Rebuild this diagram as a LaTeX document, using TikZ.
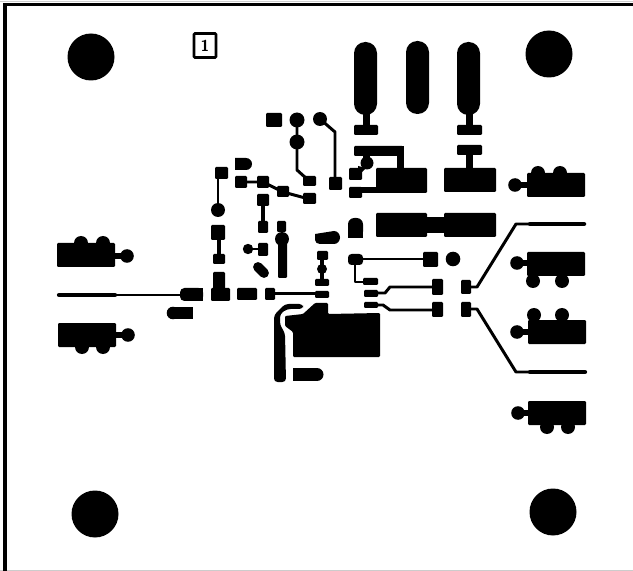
\documentclass[tikz,border=0pt]{standalone}
\usepackage{tikz}
\tikzset{
  pad/.style={fill=black, rounded corners=0.6pt},
  trace/.style={draw=black, line width=1.7pt, line join=round, line cap=round},
  widetrace/.style={draw=black, line width=2.4pt, line join=round, line cap=round},
  via/.style={fill=black},
  frameline/.style={draw=black, line width=2pt},
}
\begin{document}
\begin{tikzpicture}[x=0.02cm, y=-0.02cm]
\useasboundingbox (0,0) rectangle (633,571);
\fill[white] (0,0) rectangle (633,571);
\draw[black!20, line width=0.5pt] (0,570) -- (633,570); % scan edge
\draw[black!20, line width=0.5pt] (0,1.5) -- (633,1.5);
\draw[frameline] (5,571) -- (5,4.5) -- (633,4.5); % frame

% mounting holes
\foreach \hx/\hy in {91/57, 549/54, 95/514, 553/512} {
  \path[via] (\hx,\hy) circle (23.5);
}

\node[draw=black, line width=1.5pt, rounded corners=0.6pt, minimum width=0.44cm, minimum height=0.48cm, inner sep=0pt, font=\sffamily\bfseries\small] (markone) at (205,45.5) {1};

% top capsules
\path[via, rounded corners=6.4pt] (354,42) rectangle (377,115);
\path[via, rounded corners=6.4pt] (406,41) rectangle (429,114);
\path[via, rounded corners=6.4pt] (457,42) rectangle (480,115);
\fill (363,110) rectangle (370,126);
\fill (466,110) rectangle (473,126);
\path[pad] (354,125) rectangle (378,135);
\path[pad] (457,125) rectangle (482,135);

% upper blocks
\path[pad] (354,146) rectangle (403,156);
\fill (397,146) rectangle (404,170);
\fill (363,155) rectangle (370,165);
\path[via] (367,163) circle (6.5);
\path[pad] (349,168) rectangle (362,180);
\fill (358,166) -- (366,168) -- (358,176) -- cycle;
\path[pad] (376,168) rectangle (427,193);
\path[pad] (349,187) rectangle (362,198);
\fill (360,187) rectangle (378,193);
\path[pad] (457,145) rectangle (482,155);
\fill (466,154) rectangle (473,170);
\path[pad] (444,168) rectangle (496,192);

\path[pad] (376,213) rectangle (427,237); % long block
\path[pad] (444,213) rectangle (496,237);
\fill (426,217) rectangle (445,233);
\path[via, rounded corners=3.6pt] (348,218) rectangle (363,238);
\fill (348,228) rectangle (363,238);

% upper left group
\path[pad] (266,113) rectangle (282,127);
\draw[trace] (297,120) -- (297,170) -- (307,179);
\path[via] (297,120) circle (7.5);
\path[via] (297,142) circle (7.5);
\path[pad] (303,176) rectangle (316,186);
\path[via] (320,119) circle (7);
\draw[trace] (320,119) -- (335,132) -- (335,180);
\path[pad] (329,177) rectangle (342,190);

\path[pad] (215,167) rectangle (228,179);
\draw[trace] (218,175) -- (218,210);
\path[via] (218,210) circle (7);
\path[pad] (211,225) rectangle (225,240);
\draw[widetrace] (219,238) -- (219,258);
\path[pad] (213,254) rectangle (225,264);

\fill (235,158) -- (246,158) to[out=0,in=90] (252,164) to[out=-90,in=0] (246,170) -- (235,170) -- cycle;
\path[pad] (235,176) rectangle (247,188);
\draw[trace] (241,182) -- (263,182) -- (283,192) -- (309,199);
\path[pad] (257,176) rectangle (269,188);
\path[pad] (277,186) rectangle (289,197);
\path[pad] (303,193) rectangle (316,204);
\path[pad] (257,194) rectangle (269,206);
\draw[widetrace] (263,200) -- (263,227);
\path[pad] (258,221) rectangle (268,233);

% tall column
\path[pad] (277,221) rectangle (286,232);
\path[via] (282,239) circle (7);
\path[pad] (278,239) rectangle (287,278);
\path[pad] (258,243) rectangle (268,256);
\draw[trace] (248,249) -- (262,249);
\path[via] (248,249) circle (5.2);
\draw[line width=5.6pt, line cap=round] (258,267) -- (264,273);

\fill (315,234) -- (334,231) to[out=0,in=90] (340,237.5) to[out=-90,in=0] (334,244) -- (320,244) to[out=180,in=-90] (315,240) -- cycle;

% bottom left row
\path[pad] (317,251) rectangle (328,260);
\draw[widetrace] (322,258) -- (322,282);
\path[via] (322,269) circle (5);
\path[pad] (315,279) rectangle (329,286);
\path[pad] (211,288) rectangle (230,301);
\path[pad] (213,272) rectangle (225,290);
\path[pad] (237,288) rectangle (257,300);
\path[pad] (265,288) rectangle (275,300);
\draw[trace] (270,293.5) -- (320,293.5);
\path[pad] (315,291) rectangle (329,298);

% input trace
\draw[widetrace] (59,295) -- (115,295);
\draw[trace] (115,295) -- (185,295);
\path[via, rounded corners=2.5pt] (180,288) rectangle (203,301);
\fill (190,288) rectangle (203,301);
\fill (193,307) rectangle (175,319);
\path[via] (173,313) circle (6.3);

% chip area
\fill[rounded corners=0.6pt] (285,316) -- (303,314) -- (315,303) -- (328,303) -- (328,314) -- (380,313) -- (380,357) -- (293,357) -- (293,332) -- (285,326) -- cycle;
\fill[rounded corners=2pt] (274,382) -- (274,315) -- (285,304) -- (303,304) -- (303,309) -- (287,309) -- (280,314) -- (280,325) -- (285,333) -- (286,382) -- cycle;
\fill (293,368) rectangle (317,381);
\path[via] (317,374.5) circle (6.5);

% middle traces
\path[pad] (423,252) rectangle (438,267);
\draw[trace] (355,259) -- (428,259);
\path[via, rounded corners=2pt] (348,254) rectangle (363,265);
\draw[trace] (355,259) -- (355,282) -- (366,282);
\path[pad] (363,278) rectangle (378,285);
\path[via] (453,259) circle (7.3);
\path[pad] (364,290) rectangle (378,297);
\draw[trace] (378,293) -- (385,293) -- (390,287) -- (432,287);
\path[pad] (432,279) rectangle (443,295);
\path[pad] (364,302) rectangle (378,308);
\draw[trace] (378,305) -- (383,305) -- (390,310) -- (432,310);
\path[pad] (432,302) rectangle (443,317);
\path[pad] (461,280) rectangle (471,294);
\path[pad] (461,302) rectangle (471,317);
\draw[trace] (470,287) -- (477,287) -- (516,224) -- (585,224);
\draw[trace] (470,309) -- (477,309) -- (516,372) -- (585,372);
\draw[widetrace] (530,224) -- (584,224);
\draw[widetrace] (530,372) -- (585,372);

% connector clusters, right and left
\foreach \bx/\by/\cx/\cy/\ax/\ay/\bbx/\bby in {
  527/173/515/185/538/173/560/173,
  527/252/517/263/533/281/562/281,
  528/320/517/332/534/315/562/315,
  528/401/518/413/547/427/568/427,
  57/243/127/256/81/243/103/243,
  58/323/128/335/82/347/103/347} {
  \path[pad] (\bx,\by) rectangle +(58,24);
  \path[via] (\cx,\cy) circle (6.8);
  \path[via] (\ax,\ay) circle (7);
  \path[via] (\bbx,\bby) circle (7);
  \draw[trace, line width=3.4pt] (\cx,\cy) -- (\bx+29,\cy);
}
\end{tikzpicture}
\end{document}
